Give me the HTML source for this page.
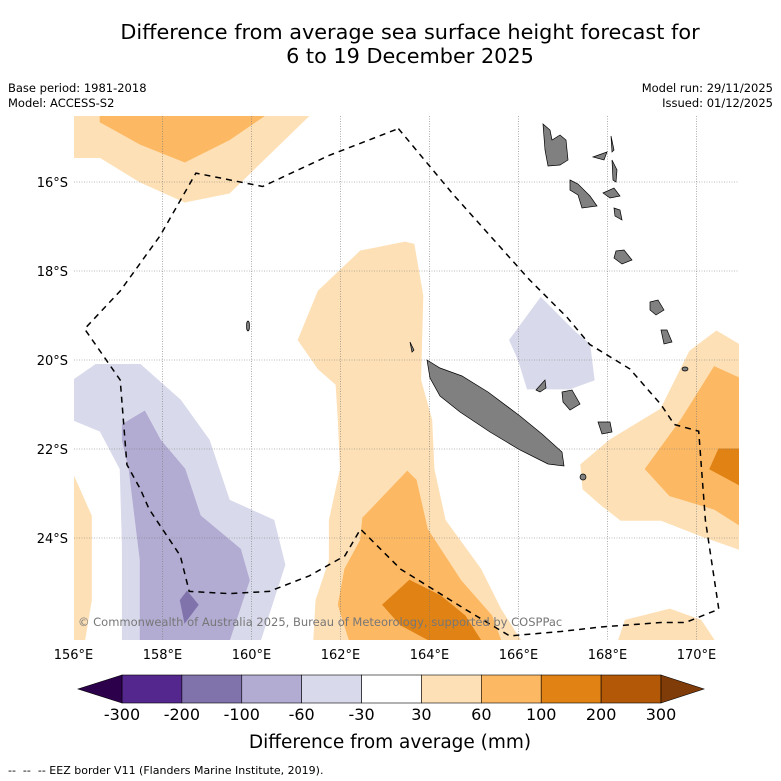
<!DOCTYPE html>
<html><head><meta charset="utf-8"><style>
body{margin:0;background:#fff;font-family:"DejaVu Sans","Liberation Sans",sans-serif}
svg{display:block;font-family:"DejaVu Sans","Liberation Sans",sans-serif}
</style></head><body>
<svg id="fig" width="781" height="781" viewBox="0 0 781 781">
<text x="410" y="39" font-size="20.8" text-anchor="middle">Difference from average sea surface height forecast for</text>
<text x="410" y="63" font-size="20.8" text-anchor="middle">6 to 19 December 2025</text>
<text x="8" y="92" font-size="11.5">Base period: 1981-2018</text>
<text x="8" y="107" font-size="11.5">Model: ACCESS-S2</text>
<text x="773" y="92" font-size="11.5" text-anchor="end">Model run: 29/11/2025</text>
<text x="773" y="107" font-size="11.5" text-anchor="end">Issued: 01/12/2025</text>
<defs><clipPath id="mc"><rect x="74" y="116" width="665" height="524"/></clipPath></defs>
<g id="map" clip-path="url(#mc)"></g>
<g id="isl" clip-path="url(#mc)" fill="#808080" stroke="#000" stroke-width="0.7">
<path d="M427,360 L440,368 L462,376 L488,392 L520,416 L542,434 L562,452 L564,466 L548,464 L520,450 L490,432 L460,412 L440,396 L430,378Z"/>
<path d="M543,124 L550,130 L552,140 L560,135 L566,140 L568,160 L560,165 L548,166 L545,150Z"/>
<path d="M570,180 L578,184 L590,196 L597,206 L582,208 L578,195 L570,190Z"/>
<path d="M593,157 L607,152 L604,160Z"/>
<path d="M611,136 L614,150 L612,152Z"/>
<path d="M612,160 L617,170 L616,182 L613,180Z"/>
<path d="M603,193 L614,188 L620,196 L610,198Z"/>
<path d="M614,208 L620,210 L622,220 L615,216Z"/>
<path d="M616,251 L624,250 L632,260 L622,264 L614,258Z"/>
<path d="M650,302 L658,300 L664,310 L656,315 L650,310Z"/>
<path d="M661,330 L667,330 L672,342 L664,344Z"/>
<path d="M562,392 L572,390 L580,404 L570,410 L563,402Z"/>
<path d="M598,422 L610,422 L612,432 L602,434Z"/>
<path d="M536,390 L545,380 L546,388 L540,392Z"/>
<ellipse cx="685" cy="369" rx="3" ry="2"/><ellipse cx="583" cy="477" rx="3" ry="3"/>
<ellipse cx="248" cy="326" rx="1.5" ry="5"/><path d="M410,342 L414,350 L412,352Z"/>
</g>
<text x="78" y="626" font-size="11.5" fill="#777">© Commonwealth of Australia 2025, Bureau of Meteorology, supported by COSPPac</text>
<g id="axes"></g>
<g id="cbar"></g>
<text x="390" y="748" font-size="18.5" text-anchor="middle">Difference from average (mm)</text>
<text x="8" y="774" font-size="11" xml:space="preserve" style="white-space:pre">--  --  -- EEZ border V11 (Flanders Marine Institute, 2019).</text>
</svg>
<script>
const lonTicks=[156,158,160,162,164,166,168,170];
const latTicks=[16,18,20,22,24];
const levels=[-300,-200,-100,-60,-30,30,60,100,200,300];
const levelColors=["#54278f","#8073ac","#b2abd2","#d8daeb","#ffffff","#fee0b6","#fdb863","#e08214","#b35806"];
const topLight=[[156,14.5],[161.3,14.5],[159.5,16.25],[158.5,16.45],[157.5,16.0],[156.6,15.45],[156,15.45]];
const topMed=[[156.6,14.5],[160.3,14.5],[159.5,15.05],[158.5,15.55],[157.5,15.15],[156.6,14.65]];
const centralLight=[[161.05,19.55],[161.5,18.45],[162.45,17.55],[163.45,17.35],[163.65,17.4],[163.85,18.55],[163.8,20.45],[164.05,21.35],[164.1,22.45],[164.35,23.6],[165.15,24.7],[165.6,25.6],[166.05,26.3],[161.4,26.3],[161.45,25.4],[161.75,24.5],[161.75,23.6],[162.0,22.45],[161.95,21.35],[161.9,20.55],[161.5,20.2]];
const centralMed=[[162.5,23.55],[163.5,22.5],[163.7,22.7],[163.95,23.8],[164.7,24.95],[165.4,25.75],[165.6,26.3],[162.2,26.3],[161.95,25.5],[162.1,24.7],[162.45,24.05]];
const centralDark=[[162.95,25.5],[163.55,24.95],[164.25,25.3],[164.8,25.75],[165.15,26.3],[164.0,26.3],[163.35,25.95]];
const purpleLight=[[156,20.45],[156.5,20.1],[157.5,20.1],[158.4,20.9],[159.05,21.8],[159.5,23.15],[160.5,23.6],[160.75,24.6],[160.2,26.3],[157.1,26.3],[157.1,24.15],[157.05,22.45],[156.6,21.6],[156,21.35]];
const purpleMed=[[157.1,21.45],[157.6,21.15],[157.95,21.8],[158.5,22.45],[158.85,23.5],[159.75,24.25],[159.95,24.95],[159.5,26.3],[157.5,26.3],[157.5,24.5],[157.25,22.45],[157.1,21.8]];
const purpleDark=[[158.4,25.4],[158.55,25.2],[158.8,25.5],[158.5,25.9]];
const leftOrange=[[156,22.6],[156.4,23.5],[156.4,25.4],[156.25,26.3],[156,26.3]];
const rightPurple=[[165.8,19.55],[166.5,18.6],[167.25,19.35],[167.6,19.65],[167.7,20.45],[167.15,20.65],[166.2,20.65],[166.0,20.0]];
const rightLight=[[167.4,22.35],[168.05,21.8],[169.2,21.1],[169.85,19.8],[170.45,19.35],[170.95,19.65],[170.95,24.25],[170.1,23.95],[169.2,23.6],[168.3,23.6],[167.85,23.25],[167.45,22.9]];
const rightMed=[[168.85,22.45],[169.65,21.35],[170.4,20.15],[170.95,20.4],[170.95,23.7],[170.4,23.35],[169.4,23.05]];
const rightDark=[[170.3,22.45],[170.5,22.0],[170.95,22.0],[170.95,22.8]];
const brLight=[[168.25,26.3],[168.4,25.85],[169.4,25.6],[170.1,25.85],[170.4,26.3]];
const eez=[[163.3,14.8],[164.55,16.3],[166.25,18.2],[167.1,19.05],[167.6,19.65],[168.5,20.2],[169.2,21.0],[169.5,21.45],[170.05,21.6],[170.2,23.6],[170.5,25.6],[169.75,25.9],[169.2,25.9],[167.85,26.0],[166.95,26.1],[165.8,26.2],[164.8,25.6],[163.35,24.7],[162.45,23.8],[162.1,24.4],[161.3,24.85],[160.4,25.2],[159.5,25.25],[158.6,25.2],[158.4,24.4],[157.7,23.35],[157.5,22.9],[157.2,22.35],[157.05,20.45],[156.25,19.3],[157.05,18.45],[157.95,17.2],[158.75,15.8],[160.25,16.1],[161.75,15.4],[163.3,14.8]];

const NS="http://www.w3.org/2000/svg";
const px=lon=>73.5+(lon-156)*44.5;
const py=lat=>182+(lat-16)*44.5;
function mk(t,a,p){const e=document.createElementNS(NS,t);for(const k in a)e.setAttribute(k,a[k]);p.appendChild(e);return e;}
const map=document.getElementById('map');
const shapes=[["top-light-contour",topLight,5],["top-medium-contour",topMed,6],["central-light-contour",centralLight,5],["central-medium-contour",centralMed,6],["central-dark-contour",centralDark,7],["left-orange-contour",leftOrange,5],["purple-light-contour",purpleLight,3],["purple-medium-contour",purpleMed,2],["purple-dark-contour",purpleDark,1],["right-purple-contour",rightPurple,3],["right-light-contour",rightLight,5],["right-medium-contour",rightMed,6],["right-dark-contour",rightDark,7],["bottom-right-light-contour",brLight,5]];
shapes.forEach(s=>{
 const pts=s[1].map(p=>px(p[0]).toFixed(1)+','+py(p[1]).toFixed(1)).join(' ');
 const c=levelColors[s[2]];
 const el=mk('polygon',{points:pts,fill:c,stroke:c,'stroke-width':1},map);
 
 
});
lonTicks.forEach(l=>{const e=mk('line',{x1:px(l),x2:px(l),y1:116,y2:640,stroke:'#777','stroke-width':0.6,'stroke-dasharray':'1,1.5'},map);

});
latTicks.forEach(l=>{const e=mk('line',{x1:74,x2:739,y1:py(l),y2:py(l),stroke:'#777','stroke-width':0.6,'stroke-dasharray':'1,1.5'},map);

});
const ez=mk('polyline',{points:eez.map(p=>px(p[0]).toFixed(1)+','+py(p[1]).toFixed(1)).join(' '),fill:'none',stroke:'#000','stroke-width':1.5,'stroke-dasharray':'6,5'},map);


const ax=document.getElementById('axes');
lonTicks.forEach(l=>{const t=mk('text',{x:px(l),y:659,'font-size':13,'text-anchor':'middle'},ax);t.textContent=l+'°E';

});
latTicks.forEach(l=>{const t=mk('text',{x:68,y:py(l)+5,'font-size':13,'text-anchor':'end'},ax);t.textContent=l+'°S';

});
const cb=document.getElementById('cbar');
const cx0=122,cw=(661-122)/(levels.length-1),cy=675,ch=28;
levelColors.forEach((c,i)=>{const r=mk('rect',{x:cx0+i*cw,y:cy,width:cw,height:ch,fill:c,stroke:'#000','stroke-width':0.6},cb);

});
const tl=mk('polygon',{points:`${cx0},${cy} 78,${cy+ch/2} ${cx0},${cy+ch}`,fill:'#2d004b',stroke:'#000','stroke-width':0.6},cb);


const tr=mk('polygon',{points:`661,${cy} 704,${cy+ch/2} 661,${cy+ch}`,fill:'#7f3b08',stroke:'#000','stroke-width':0.6},cb);


levels.forEach((v,i)=>{const t=mk('text',{x:cx0+i*cw,y:720,'font-size':16,'text-anchor':'middle'},cb);t.textContent=v;

});
</script>
</body></html>
